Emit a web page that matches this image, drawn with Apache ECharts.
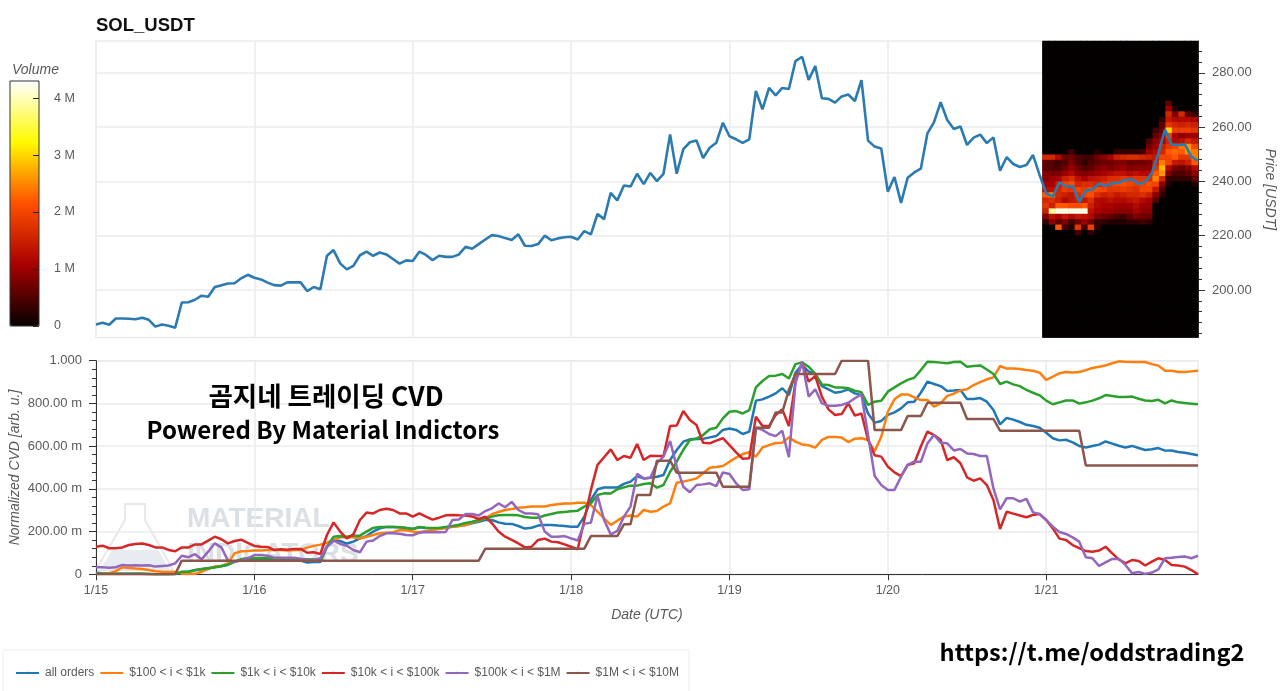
<!DOCTYPE html>
<html lang="en" style="height: 100%">
  <head>
    <meta charset="utf-8" />
    <script src="https://cdn.jsdelivr.net/npm/echarts@6/dist/echarts.min.js"></script>
  </head>
  <body style="height: 100%; margin: 0; background: #fff">
    <div id="container" style="width: 1280px; height: 691px"></div>
    <script type="text/javascript">
      // hourly values, one row per day (1/15 .. 1/21)
      const dateLabels = ["1/15", "1/16", "1/17", "1/18", "1/19", "1/20", "1/21"];
      const dayTicks = [0, 24, 48, 72, 96, 120, 144];
      const priceTicks = [200, 220, 240, 260, 280];
      const priceMinorTicks = [184, 188, 192, 196, 204, 208, 212, 216, 224, 228, 232, 236, 244, 248, 252, 256, 264, 268, 272, 276, 284, 288];
      const volumeTicks = [0, 1, 2, 3, 4];

      const price = [
        187.3, 187.9, 187.2, 189.5, 189.5, 189.4, 189.2, 189.8, 189.0, 186.5, 187.3, 186.8, 186.1, 195.4, 195.5, 196.4, 197.9, 197.5, 201.1, 201.7, 202.4, 202.5, 204.3, 205.6,
        204.5, 203.9, 202.7, 201.8, 201.6, 202.8, 202.8, 202.8, 199.6, 201.1, 200.3, 212.6, 214.7, 209.8, 207.6, 208.9, 212.8, 214.1, 212.6, 213.8, 213.1, 211.4, 209.7, 210.9,
        210.7, 214.1, 212.9, 211.0, 212.6, 212.2, 212.2, 213.1, 215.9, 215.2, 216.9, 218.6, 220.2, 219.9, 219.1, 218.4, 220.5, 216.3, 216.2, 216.9, 220.0, 218.3, 219.0, 219.4,
        219.6, 218.6, 221.7, 220.5, 228.0, 226.1, 235.8, 233.0, 238.5, 238.1, 242.8, 239.0, 243.1, 240.1, 242.8, 257.3, 242.8, 251.9, 254.4, 255.1, 248.6, 252.4, 254.2, 261.6,
        256.6, 255.5, 254.2, 255.5, 273.3, 266.5, 274.4, 271.7, 274.4, 274.0, 284.3, 285.9, 277.4, 282.5, 270.6, 270.4, 269.0, 271.3, 272.0, 269.6, 277.3, 255.0, 252.8, 252.1,
        236.2, 241.6, 232.1, 241.3, 243.3, 244.7, 257.7, 261.8, 269.2, 262.6, 259.3, 260.2, 253.4, 256.1, 257.2, 254.1, 256.2, 243.9, 248.9, 246.4, 245.3, 246.0, 249.7, 242.3,
        235.6, 234.4, 239.7, 238.0, 238.4, 232.4, 236.6, 237.1, 239.1, 238.4, 239.3, 239.6, 240.5, 240.8, 239.0, 239.9, 243.0, 250.3, 259.1, 253.6, 253.4, 253.6, 249.1, 247.6,
      ];

      const allOrders = [
        .009, .004, .003, .003, .003, .003, .003, .002, .001, 0, 0, 0, .001, .010, .012, .019, .024, .028, .033, .038, .045, .058, .070, .074,
        .070, .067, .067, .067, .066, .066, .066, .064, .055, .058, .058, .129, .158, .156, .144, .153, .168, .179, .200, .215, .222, .222, .220, .217,
        .212, .220, .217, .215, .215, .220, .223, .226, .231, .239, .246, .254, .254, .243, .237, .236, .226, .214, .218, .228, .231, .231, .228, .226,
        .223, .223, .270, .348, .398, .406, .406, .406, .423, .434, .459, .449, .452, .457, .465, .535, .582, .621, .632, .635, .634, .641, .647, .676,
        .683, .676, .657, .668, .813, .819, .832, .847, .871, .839, .944, .980, .949, .938, .881, .866, .850, .855, .866, .847, .839, .753, .710, .718,
        .746, .758, .777, .805, .808, .850, .902, .891, .881, .858, .860, .863, .821, .821, .825, .808, .769, .702, .732, .724, .713, .700, .694, .686,
        .663, .637, .627, .630, .618, .601, .594, .601, .607, .622, .612, .602, .594, .601, .591, .582, .585, .591, .579, .580, .573, .569, .563, .557,
      ];
      const orders100 = [
        .002, .002, .005, .015, .033, .030, .027, .025, .020, .014, .012, .011, .011, .003, .002, .002, .012, .025, .036, .039, .051, .098, .108, .109,
        .111, .111, .114, .114, .114, .111, .114, .114, .125, .133, .139, .148, .161, .173, .173, .173, .168, .176, .184, .192, .195, .197, .207, .206,
        .200, .197, .203, .207, .212, .215, .222, .226, .231, .242, .251, .262, .281, .292, .301, .306, .312, .314, .317, .317, .317, .324, .328, .331,
        .332, .335, .335, .324, .293, .262, .231, .251, .270, .275, .270, .301, .293, .296, .317, .332, .429, .434, .441, .449, .473, .499, .502, .507,
        .527, .546, .563, .571, .551, .594, .605, .615, .616, .641, .621, .608, .604, .593, .629, .643, .643, .640, .619, .635, .637, .629, .576, .644,
        .761, .819, .842, .842, .828, .816, .816, .785, .800, .835, .846, .861, .866, .886, .900, .913, .922, .975, .963, .963, .961, .956, .953, .944,
        .910, .925, .941, .947, .945, .947, .956, .966, .972, .978, .988, .997, .995, .994, .994, .994, .984, .977, .953, .953, .947, .947, .950, .953,
      ];
      const orders1k = [
        .003, .002, .002, .002, .002, .002, .002, .002, .001, 0, 0, 0, .002, .012, .012, .020, .025, .028, .033, .039, .045, .059, .070, .075,
        .076, .075, .076, .072, .070, .070, .070, .070, .070, .069, .065, .129, .176, .179, .176, .181, .181, .200, .217, .222, .222, .222, .220, .217,
        .212, .222, .218, .217, .217, .222, .226, .232, .240, .246, .254, .262, .270, .276, .278, .278, .276, .268, .265, .265, .275, .282, .289, .292,
        .295, .298, .317, .332, .371, .379, .378, .398, .407, .415, .415, .423, .426, .406, .418, .480, .527, .582, .629, .635, .652, .679, .686, .730,
        .761, .764, .753, .769, .875, .905, .928, .930, .938, .917, .984, .992, .972, .938, .889, .886, .875, .875, .871, .860, .852, .793, .808, .813,
        .855, .875, .894, .910, .920, .956, .995, .994, .991, .988, .994, .995, .972, .975, .978, .959, .938, .891, .902, .889, .881, .863, .850, .838,
        .813, .796, .805, .814, .814, .799, .805, .813, .824, .839, .835, .830, .830, .832, .822, .814, .811, .817, .800, .814, .805, .802, .799, .796,
      ];
      const orders10k = [
        .129, .134, .122, .122, .126, .137, .142, .144, .137, .126, .126, .114, .108, .126, .125, .140, .140, .158, .176, .164, .145, .156, .162, .147,
        .133, .129, .128, .114, .117, .115, .119, .119, .101, .103, .095, .184, .243, .200, .168, .187, .254, .289, .285, .301, .307, .301, .285, .285,
        .270, .285, .270, .256, .265, .276, .278, .276, .275, .271, .259, .270, .239, .200, .176, .161, .145, .126, .129, .161, .167, .153, .150, .140,
        .129, .117, .254, .395, .512, .548, .585, .535, .554, .546, .610, .535, .555, .554, .554, .694, .697, .764, .722, .699, .616, .613, .626, .637,
        .605, .571, .541, .543, .738, .694, .694, .746, .772, .694, .902, .991, .902, .928, .832, .772, .746, .750, .800, .743, .753, .629, .557, .551,
        .504, .477, .460, .512, .520, .598, .668, .652, .629, .535, .548, .520, .454, .438, .449, .418, .348, .212, .293, .284, .275, .267, .278, .282,
        .254, .215, .167, .161, .137, .123, .109, .106, .111, .129, .098, .070, .051, .067, .062, .041, .059, .075, .067, .044, .041, .036, .020, 0,
      ];
      const orders100k = [
        .033, .033, .031, .033, .044, .041, .042, .041, .042, .036, .039, .041, .051, .087, .080, .094, .070, .106, .145, .126, .064, .059, .064, .075,
        .090, .090, .087, .078, .078, .078, .078, .073, .067, .067, .075, .129, .158, .142, .134, .114, .103, .153, .158, .179, .192, .192, .190, .184,
        .183, .195, .198, .197, .197, .198, .254, .257, .282, .282, .275, .296, .309, .332, .314, .339, .301, .285, .285, .281, .200, .176, .176, .179,
        .168, .158, .236, .242, .368, .254, .187, .203, .270, .317, .470, .449, .452, .520, .551, .624, .504, .410, .384, .418, .421, .426, .413, .477,
        .470, .426, .395, .398, .686, .676, .657, .647, .672, .548, .894, .995, .832, .866, .800, .789, .789, .793, .803, .824, .842, .652, .460, .418,
        .395, .395, .457, .512, .527, .527, .613, .652, .616, .613, .580, .587, .566, .563, .554, .554, .402, .304, .356, .356, .340, .353, .290, .282,
        .254, .223, .198, .189, .173, .153, .080, .075, .039, .056, .072, .072, .044, .005, .011, .002, .008, .023, .075, .078, .081, .083, .075, .087,
      ];
      const orders1M = [
        0, 0, 0, 0, 0, 0, 0, 0, 0, 0, 0, 0, 0, .064, .064, .064, .064, .064, .064, .064, .064, .064, .064, .064,
        .064, .064, .064, .064, .064, .064, .064, .064, .064, .064, .064, .064, .064, .064, .064, .064, .064, .064, .064, .064, .064, .064, .064, .064,
        .064, .064, .064, .064, .064, .064, .064, .064, .064, .064, .064, .120, .120, .120, .120, .120, .120, .120, .120, .120, .120, .120, .120, .120,
        .120, .120, .120, .179, .179, .179, .179, .179, .234, .234, .371, .371, .371, .532, .532, .532, .476, .476, .476, .476, .476, .476, .476, .410,
        .410, .410, .410, .410, .686, .686, .686, .758, .758, .863, .938, .938, .938, .938, .938, .938, .938, 1, 1, 1, 1, 1, .675, .675,
        .675, .675, .675, .741, .741, .741, .803, .803, .803, .803, .803, .803, .727, .727, .727, .727, .727, .672, .672, .672, .672, .672, .672, .672,
        .672, .672, .672, .672, .672, .672, .509, .509, .509, .509, .509, .509, .509, .509, .509, .509, .509, .509, .509, .509, .509, .509, .509, .509,
      ];

      const seriesNames = ["all orders", "$100 < i < $1k", "$1k < i < $10k", "$10k < i < $100k", "$100k < i < $1M", "$1M < i < $10M"];
      const seriesValues = [allOrders, orders100, orders1k, orders10k, orders100k, orders1M];
      const seriesColors = ["#1f77b4", "#ff7f0e", "#2ca02c", "#d62728", "#9467bd", "#8c564b"];

      // volume in millions, rows are 2 USDT price bins, columns are the last 24 hours
      const heatPrices = [269, 267, 265, 263, 261, 259, 257, 255, 253, 251, 249, 247, 245, 243, 241, 239, 237, 235, 233, 231, 229, 227, 225, 223, 221];
      const heatVolume = [
        [0, 0, 0, 0, 0, 0, 0, 0, 0, 0, 0, 0, 0, 0, 0, 0, 0, 0, 0, .6, 0, 0, 0, 0],
        [0, 0, 0, 0, 0, 0, 0, 0, 0, 0, 0, 0, 0, 0, 0, 0, 0, 0, 0, 1.0, .2, 0, 0, 0],
        [0, 0, 0, 0, 0, 0, 0, 0, 0, 0, 0, 0, 0, 0, 0, 0, 0, 0, 0, 1.6, .8, 1.6, .6, .3],
        [0, 0, 0, 0, 0, 0, 0, 0, 0, 0, 0, 0, 0, 0, 0, 0, 0, 0, .3, 1.4, 1.2, 1.2, 1.2, 1.1],
        [0, 0, 0, 0, 0, 0, 0, 0, 0, 0, 0, 0, 0, 0, 0, 0, 0, 0, .6, 1.8, 1.6, 1.5, 1.6, 1.5],
        [0, 0, 0, 0, 0, 0, 0, 0, 0, 0, 0, 0, 0, 0, 0, 0, 0, .4, .7, 3.0, 1.9, 1.9, 1.9, 1.8],
        [0, 0, 0, 0, 0, 0, 0, 0, 0, 0, 0, 0, 0, 0, 0, 0, 0, .6, .9, 2.0, 1.1, .9, 1.0, 1.0],
        [0, 0, 0, 0, 0, 0, 0, 0, 0, 0, 0, 0, 0, 0, 0, 0, .5, .9, 1.1, 1.6, 1.2, 1.3, 1.6, 1.4],
        [0, 0, 0, 0, 0, 0, 0, 0, 0, 0, 0, 0, 0, 0, 0, 0, .7, 1.0, 1.5, 1.8, 2.0, 2.4, 2.6, 2.0],
        [0, 0, 0, 0, .4, 0, 0, 0, .2, 0, 0, .3, .3, .3, .3, .4, 1.0, 1.2, 1.6, 2.2, 2.3, 2.2, 2.6, 2.4],
        [1.6, 1.6, 1.2, .7, .7, .5, .4, .4, .7, .9, 1.1, 1.5, 1.6, 1.7, 1.7, 1.6, 1.5, 1.4, 2.0, 2.0, 2.2, 1.8, 1.8, 2.4],
        [.6, .5, .4, .5, .8, .5, .3, .5, .6, .7, .7, .8, .8, .7, .7, .7, .8, 1.5, 2.4, 2.0, 1.4, 1.3, 1.5, 2.2],
        [.6, .5, .5, .7, 1.0, .7, .5, .6, .8, .9, .8, .9, 1.0, .8, .9, .9, .9, 1.8, 2.8, 1.2, .8, .7, .8, 1.2],
        [.8, .8, .8, 1.0, 1.2, .9, .8, .9, 1.0, 1.1, 1.2, 1.3, 1.3, 1.2, 1.3, 1.2, 1.2, 2.2, 2.6, .8, .5, .5, .6, .9],
        [.9, 1.0, 1.1, 1.5, 1.7, 1.3, 1.1, 1.3, 1.4, 1.5, 1.7, 1.7, 1.8, 1.7, 1.8, 1.8, 1.7, 2.5, 1.6, .3, .3, .3, .3, .6],
        [1.1, 1.1, 1.5, 2.0, 2.1, 1.6, 1.7, 1.7, 1.6, 1.8, 1.9, 2.0, 2.1, 2.0, 1.9, 2.0, 2.1, 2.0, .9, .2, 0, 0, 0, .2],
        [1.3, 1.3, 1.6, 1.9, 1.8, 2.0, 1.9, 2.1, 2.1, 2.0, 1.8, 1.8, 1.9, 1.8, 1.7, 2.0, 2.0, 1.4, .5, 0, 0, 0, 0, 0],
        [2.2, 2.4, 1.6, 1.5, 1.4, 1.7, 2.0, 2.1, 1.7, 1.5, 1.6, 1.4, 1.5, 1.6, 1.6, 1.7, 1.5, .9, .3, 0, 0, 0, 0, 0],
        [1.6, 1.7, 1.5, 1.2, 1.4, 1.5, 1.4, 1.7, 1.2, 1.2, 1.3, 1.2, 1.2, 1.3, 1.4, 1.2, 1.1, .5, 0, 0, 0, 0, 0, 0],
        [1.8, 1.5, 2.2, 2.2, 2.1, 2.1, 2.2, 1.5, 1.2, 1.1, 1.1, 1.0, 1.0, 1.0, 1.2, 1.0, 1.0, 0, 0, 0, 0, 0, 0, 0],
        [1.5, 3.9, 4.2, 4.2, 4.2, 4.2, 4.2, 1.3, 1.1, 1.0, 1.0, .9, .9, .9, 1.1, .9, .9, 0, 0, 0, 0, 0, 0, 0],
        [.8, 1.3, 1.1, 1.4, 1.2, 1.4, 1.3, 1.2, .8, .7, .6, .5, .4, .6, .8, .7, .7, 0, 0, 0, 0, 0, 0, 0],
        [.3, .9, .6, .8, .4, .7, 1.0, .7, .3, .3, .2, .2, .2, .3, .3, .4, .3, 0, 0, 0, 0, 0, 0, 0],
        [0, 0, 2.2, .4, .2, 1.8, .4, 1.9, .3, 0, 0, 0, 0, 0, 0, 0, 0, 0, 0, 0, 0, 0, 0, 0],
        [0, 0, 0, 0, 0, .4, 0, .3, 0, 0, 0, 0, 0, 0, 0, 0, 0, 0, 0, 0, 0, 0, 0, 0],
      ];
      const heatColors = ["#050000", "#a80000", "#ff5000", "#fffa00", "#ffffff"];

      const textColor = "#5a5a5a";
      const gridColor = "#ebebeb";
      const axisColor = "#333";
      const sansFont = "Liberation Sans";
      const hourMax = 167;

      // categories of the black heat panel
      const heatCols = heatVolume[0].map((v, i) => i);
      const heatBins = [];
      for (let p = 183; p <= 291; p += 2) heatBins.push(p);
      const heatData = [];
      heatBins.forEach((p, y) => {
        const row = heatVolume[heatPrices.indexOf(p)];
        heatCols.forEach((c) => heatData.push([c, y, row ? row[c] : 0]));
      });

      function cvdLabel(v) {
        if (v === 0) return "0";
        if (v === 1) return "1.000";
        return (v * 1000).toFixed(2) + " m";
      }

      const dom = document.getElementById("container");
      const myChart = echarts.init(dom, null, { renderer: "canvas" });

      const option = {
        animation: false,
        backgroundColor: "#fff",
        textStyle: { fontFamily: sansFont },
        title: {
          text: "SOL_USDT",
          left: 96,
          top: 16,
          padding: 0,
          textStyle: { fontSize: 18.5, fontWeight: "bold", color: "#111", fontFamily: sansFont },
        },
        grid: [
          { left: 96, top: 41, width: 1102, height: 296.5, show: true, borderColor: gridColor, borderWidth: 1.5, outerBoundsMode: "none" },
          { left: 96, top: 360.7, width: 1102, height: 213.6, show: true, borderColor: gridColor, borderWidth: 1.5, outerBoundsMode: "none" },
          { left: 1042.5, top: 41, width: 155.5, height: 296.5, z: 1, show: true, backgroundColor: "#050000", borderWidth: 0, outerBoundsMode: "none" },
          { left: 10, top: 81, width: 29, height: 245, outerBoundsMode: "none" },
        ],
        xAxis: [
          {
            type: "value",
            gridIndex: 0,
            min: 0,
            max: hourMax,
            interval: 24,
            axisLine: { show: false, onZero: false },
            axisLabel: { show: false },
            axisTick: { show: false, customValues: dayTicks },
            splitLine: { show: true, lineStyle: { color: gridColor, width: 1.5 } },
          },
          {
            type: "value",
            gridIndex: 1,
            min: 0,
            max: hourMax,
            interval: 24,
            name: "Date (UTC)",
            nameLocation: "middle",
            nameGap: 34,
            nameTextStyle: { color: textColor, fontStyle: "italic", fontSize: 14, fontFamily: sansFont },
            axisLine: { show: true, lineStyle: { color: axisColor }, onZero: false },
            axisTick: { show: true, length: 6, customValues: dayTicks, lineStyle: { color: axisColor } },
            axisLabel: {
              color: textColor,
              fontSize: 12.5,
              margin: 10,
              customValues: dayTicks,
              formatter: (v) => dateLabels[dayTicks.indexOf(v)],
            },
            splitLine: { show: true, lineStyle: { color: gridColor, width: 1.5 } },
          },
          { type: "category", gridIndex: 2, data: heatCols, show: false },
          { type: "value", gridIndex: 3, show: false },
        ],
        yAxis: [
          {
            type: "value",
            gridIndex: 0,
            position: "right",
            min: 182.5,
            max: 291.7,
            interval: 20,
            name: "Price [USDT]",
            nameLocation: "middle",
            nameRotate: -90,
            nameGap: 64,
            nameTextStyle: { color: textColor, fontStyle: "italic", fontSize: 14, fontFamily: sansFont },
            axisLine: { show: true, onZero: false, lineStyle: { color: axisColor } },
            axisTick: { show: true, length: 7, customValues: priceTicks, lineStyle: { color: axisColor } },
            axisLabel: {
              color: textColor,
              fontSize: 13,
              margin: 14,
              customValues: priceTicks,
              formatter: (v) => v.toFixed(2),
            },
            splitLine: { show: true, lineStyle: { color: gridColor, width: 1.5 } },
          },
          {
            type: "value",
            gridIndex: 1,
            min: 0,
            max: 1,
            interval: 0.2,
            name: "Normalized CVD [arb. u.]",
            nameLocation: "middle",
            nameRotate: 90,
            nameGap: 74,
            nameMoveOverlap: false,
            nameTextStyle: { color: textColor, fontStyle: "italic", fontSize: 14, fontFamily: sansFont },
            axisLine: { show: true, lineStyle: { color: axisColor }, onZero: false },
            axisTick: { show: true, length: 7, lineStyle: { color: axisColor } },
            minorTick: { show: true, splitNumber: 5, length: 4, lineStyle: { color: axisColor } },
            axisLabel: { color: textColor, fontSize: 13, margin: 14, formatter: cvdLabel },
            splitLine: { show: true, lineStyle: { color: gridColor, width: 1.5 } },
          },
          { type: "category", gridIndex: 2, data: heatBins, show: false },
          {
            type: "value",
            gridIndex: 3,
            position: "right",
            min: 0,
            max: 4.3,
            interval: 1,
            z: 8,
            axisLine: { show: false, onZero: false },
            axisTick: { show: true, inside: true, length: 6, customValues: volumeTicks, lineStyle: { color: "#222" } },
            axisLabel: {
              color: textColor,
              fontSize: 12.5,
              margin: 15,
              customValues: volumeTicks,
              formatter: (v) => (v === 0 ? "0" : v + " M"),
            },
            splitLine: { show: false },
          },
          {
            type: "value",
            gridIndex: 0,
            position: "right",
            min: 182.5,
            max: 291.7,
            interval: 20,
            axisLine: { show: false, onZero: false },
            axisLabel: { show: false },
            axisTick: { show: true, length: 4, customValues: priceMinorTicks, lineStyle: { color: axisColor } },
            splitLine: { show: false },
          },
        ],
        visualMap: {
          type: "continuous",
          seriesIndex: 0,
          min: 0,
          max: 4.3,
          left: 10,
          top: 81,
          padding: 0,
          itemWidth: 29,
          itemHeight: 245,
          text: ["", ""],
          showLabel: false,
          calculable: false,
          hoverLink: false,
          inRange: { color: heatColors },
        },
        legend: {
          data: seriesNames,
          left: 3,
          top: 650,
          padding: [17, 10, 14, 12],
          itemWidth: 23,
          itemHeight: 3,
          itemGap: 5,
          borderColor: "#eeeeee",
          borderWidth: 1,
          textStyle: { color: textColor, fontSize: 12, fontFamily: sansFont, padding: [0, 0, 0, 1] },
        },
        graphic: [
          {
            type: "polygon",
            z: 0,
            silent: true,
            shape: { points: [[125, 504], [145, 504], [145, 520], [173, 570], [96, 570], [125, 520]] },
            style: { fill: "none", stroke: "#e8e8e8", lineWidth: 2 },
          },
          {
            type: "polygon",
            z: 0,
            silent: true,
            shape: { points: [[112, 550], [158, 550], [170, 570], [100, 570]] },
            style: { fill: "#e6ecf0" },
          },
          {
            type: "text",
            z: 0,
            silent: true,
            left: 187,
            top: 505,
            style: { text: "MATERIAL", fill: "#dbe0e5", font: "bold 28px " + sansFont },
          },
          {
            type: "text",
            z: 0,
            silent: true,
            left: 187,
            top: 540,
            style: { text: "INDICATORS", fill: "#dbe0e5", font: "bold 28px " + sansFont },
          },
          {
            type: "text",
            left: 12,
            top: 63,
            style: { text: "Volume", fill: textColor, font: "italic 14px " + sansFont },
          },
          {
            type: "rect",
            z: 9,
            silent: true,
            shape: { x: 10, y: 81, width: 29, height: 245 },
            style: { fill: "none", stroke: "#333", lineWidth: 1 },
          },
          {
            type: "text",
            z: 20,
            x: 326,
            y: 396,
            style: {
              text: "곰지네 트레이딩 CVD",
              fill: "#000",
              font: 'bold 26.5px "Noto Sans CJK KR"',
              align: "center",
              verticalAlign: "middle",
            },
          },
          {
            type: "text",
            z: 20,
            x: 323,
            y: 430,
            style: {
              text: "Powered By Material Indictors",
              fill: "#000",
              font: 'bold 24px "Noto Sans CJK KR"',
              align: "center",
              verticalAlign: "middle",
            },
          },
          {
            type: "text",
            z: 20,
            x: 1092,
            y: 652,
            style: {
              text: "https://t.me/oddstrading2",
              fill: "#000",
              font: 'bold 23.6px "Noto Sans CJK KR"',
              align: "center",
              verticalAlign: "middle",
            },
          },
        ],
        series: [
          {
            type: "heatmap",
            name: "Volume",
            xAxisIndex: 2,
            yAxisIndex: 2,
            z: 2,
            progressive: 0,
            data: heatData,
            itemStyle: { borderWidth: 0 },
            emphasis: { disabled: true },
          },
          {
            type: "line",
            name: "price",
            xAxisIndex: 0,
            yAxisIndex: 0,
            z: 5,
            symbol: "none",
            data: price.map((v, i) => [i, v]),
            lineStyle: { color: "#2b7bb0", width: 2.6 },
          },
        ].concat(
          seriesValues.map((values, k) => ({
            type: "line",
            name: seriesNames[k],
            xAxisIndex: 1,
            yAxisIndex: 1,
            z: 5 + k,
            symbol: "none",
            color: seriesColors[k],
            data: values.map((v, i) => [i, v]),
            lineStyle: { color: seriesColors[k], width: 2.5 },
          }))
        ),
      };

      myChart.setOption(option);
      window.addEventListener("resize", myChart.resize);
    </script>
  </body>
</html>
